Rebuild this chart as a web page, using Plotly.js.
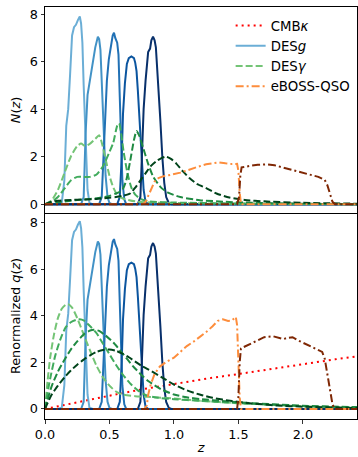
<!DOCTYPE html>
<html><head><meta charset="utf-8">
<script src="https://cdn.plot.ly/plotly-3.0.1.min.js"></script>
<style>body{margin:0;padding:0;background:#fff}#c{width:358px;height:457px}</style>
</head><body><div id="c"></div>
<script>
// ---------- DATA ----------
// DES galaxy clustering N(z) bins (top panel)
const desgZ1 = [0,0.10,0.13,0.15,0.165,0.18,0.195,0.21,0.225,0.24,0.255,0.27,0.28,0.29,0.30,0.31,0.32,0.33,0.345,0.37,2.42];
const desgN1 = [0,0,0.05,1.0,3.3,4.0,5.5,7.1,7.45,7.55,7.75,7.9,7.6,6.8,5.0,3.5,1.8,0.6,0.05,0,0];
const desgZ2 = [0,0.28,0.30,0.315,0.33,0.35,0.37,0.39,0.41,0.42,0.43,0.44,0.455,0.47,0.485,0.50,0.52,2.42];
const desgN2 = [0,0,0.3,3.0,4.6,5.3,6.0,6.6,7.05,6.95,6.5,5.0,3.0,1.2,0.3,0.05,0,0];
const desgZ3 = [0,0.42,0.44,0.455,0.47,0.48,0.495,0.51,0.525,0.535,0.545,0.56,0.57,0.58,0.59,0.60,0.615,0.63,2.42];
const desgN3 = [0,0,0.3,2.0,4.0,5.2,6.1,6.7,7.1,7.22,7.0,6.8,6.3,4.5,2.5,1.0,0.2,0,0];
const desgZ4 = [0,0.56,0.58,0.595,0.605,0.62,0.635,0.65,0.67,0.69,0.70,0.71,0.72,0.735,0.75,0.765,0.78,0.80,2.42];
const desgN4 = [0,0,0.3,2.0,3.8,5.1,5.9,6.15,6.22,6.15,5.95,5.6,4.8,3.5,1.8,0.6,0.1,0,0];
const desgZ5 = [0,0.72,0.74,0.755,0.765,0.78,0.79,0.80,0.815,0.825,0.838,0.85,0.86,0.87,0.88,0.895,0.91,0.925,0.94,0.96,0.98,2.42];
const desgN5 = [0,0,0.3,2.5,4.0,5.2,5.8,6.4,6.55,6.9,7.05,6.9,6.6,5.8,4.8,3.5,2.0,0.9,0.3,0.05,0,0];
// renormalisation of the DESg kernels in the lower panel (peak ratio)
const desgRenorm = [1.02,1.02,1.01,1.01,1.01];

// DES shear N(z) bins (top panel)
const desyZ1 = [0,0.05,0.1,0.15,0.2,0.25,0.28,0.31,0.35,0.39,0.42,0.44,0.47,0.5,0.53,0.56,0.6,0.7,0.8,1.0,1.5,2.42];
const desyN1 = [0,0.15,0.6,1.3,2.0,2.45,2.55,2.45,2.55,2.75,2.9,2.6,1.9,1.2,0.7,0.4,0.25,0.12,0.08,0.05,0.02,0];
const desyZ2 = [0,0.05,0.1,0.15,0.2,0.25,0.3,0.35,0.4,0.45,0.5,0.53,0.56,0.575,0.59,0.61,0.64,0.67,0.7,0.75,0.8,1.0,1.5,2.42];
const desyN2 = [0,0.1,0.3,0.65,1.0,1.15,1.15,1.15,1.25,1.6,2.2,2.6,3.3,3.4,3.0,2.2,1.3,0.7,0.4,0.2,0.12,0.07,0.03,0];
const desyZ3 = [0,0.1,0.2,0.3,0.4,0.5,0.55,0.6,0.63,0.66,0.69,0.71,0.73,0.76,0.8,0.84,0.9,0.95,1.05,1.2,1.4,1.6,2.0,2.42];
const desyN3 = [0,0.08,0.15,0.2,0.25,0.35,0.45,0.6,1.0,1.8,2.7,3.08,2.9,2.4,1.7,1.15,0.7,0.5,0.3,0.17,0.1,0.06,0.02,0];
const desyZ4 = [0,0.05,0.1,0.2,0.3,0.4,0.5,0.55,0.6,0.66,0.7,0.74,0.78,0.82,0.86,0.9,0.94,0.98,1.02,1.07,1.12,1.18,1.25,1.33,1.43,1.55,1.7,2.0,2.42];
const desyN4 = [0,0.1,0.15,0.18,0.2,0.22,0.27,0.3,0.35,0.45,0.7,1.0,1.3,1.6,1.8,1.93,2.0,1.9,1.7,1.38,1.1,0.85,0.68,0.45,0.28,0.18,0.12,0.06,0.02];
// DES shear lensing kernels (lower panel)
const desyQZ1 = [0,0.02,0.04,0.07,0.1,0.13,0.16,0.18,0.21,0.25,0.3,0.35,0.4,0.45,0.5,0.55,0.6,0.7,0.8,1.0,1.2,1.5,1.8,2.1,2.42];
const desyQ1  = [0,1.2,2.2,3.2,3.9,4.3,4.47,4.5,4.35,3.9,3.2,2.5,1.85,1.35,1.0,0.75,0.62,0.55,0.52,0.45,0.35,0.25,0.17,0.1,0.06];
const desyQZ2 = [0,0.02,0.04,0.08,0.12,0.16,0.2,0.24,0.27,0.3,0.35,0.4,0.45,0.5,0.55,0.6,0.66,0.72,0.78,0.85,1.0,1.2,1.5,1.8,2.1,2.42];
const desyQ2  = [0,0.7,1.3,2.3,3.0,3.5,3.72,3.82,3.85,3.8,3.55,3.25,2.8,2.35,1.9,1.5,1.1,0.8,0.6,0.5,0.42,0.35,0.25,0.17,0.1,0.06];
const desyQZ3 = [0,0.02,0.05,0.1,0.15,0.2,0.25,0.3,0.35,0.38,0.42,0.47,0.53,0.6,0.68,0.75,0.8,0.9,1.0,1.1,1.2,1.4,1.6,2.0,2.42];
const desyQ3  = [0,0.4,0.95,1.6,2.1,2.55,2.9,3.2,3.37,3.4,3.35,3.15,2.85,2.4,1.85,1.45,1.2,0.85,0.62,0.5,0.43,0.33,0.25,0.14,0.08];
const desyQZ4 = [0,0.02,0.05,0.1,0.15,0.2,0.25,0.3,0.35,0.4,0.45,0.5,0.55,0.6,0.65,0.7,0.75,0.8,0.9,1.0,1.1,1.2,1.3,1.45,1.6,1.8,2.0,2.42];
const desyQ4  = [0,0.25,0.6,1.0,1.35,1.65,1.9,2.12,2.3,2.45,2.53,2.55,2.5,2.38,2.22,2.03,1.85,1.7,1.38,1.05,0.8,0.62,0.48,0.34,0.24,0.15,0.1,0.04];

// eBOSS-QSO N(z) (top) and kernels (bottom)
const qsoZ1 = [0,0.76,0.78,0.80,0.82,0.85,0.88,0.92,0.96,1.0,1.05,1.1,1.15,1.2,1.25,1.3,1.35,1.4,1.45,1.49,1.5,1.51,1.52,2.42];
const qsoN1 = [0,0,0.1,0.35,0.65,0.95,1.1,1.18,1.22,1.26,1.33,1.42,1.52,1.6,1.68,1.73,1.76,1.72,1.69,1.7,1.4,0.5,0,0];
const qsoZ2 = [0,1.49,1.505,1.515,1.525,1.55,1.6,1.65,1.72,1.78,1.85,1.92,1.98,2.05,2.12,2.17,2.19,2.21,2.23,2.25,2.42];
const qsoN2 = [0,0,0.3,1.2,1.55,1.58,1.62,1.66,1.68,1.64,1.54,1.45,1.36,1.27,1.15,1.02,0.8,0.45,0.1,0,0];
const qsoQZ1 = [0,0.77,0.79,0.80,0.82,0.85,0.89,0.94,1.0,1.05,1.1,1.15,1.2,1.25,1.3,1.34,1.38,1.42,1.45,1.48,1.49,1.50,1.51,1.52,2.42];
const qsoQ1  = [0,0,0.15,0.6,1.05,1.5,1.82,2.02,2.2,2.45,2.7,2.88,3.08,3.3,3.55,3.78,3.85,3.78,3.8,3.95,3.6,1.9,0.5,0,0];
const qsoQZ2 = [0,1.49,1.5,1.51,1.52,1.55,1.6,1.65,1.7,1.77,1.82,1.85,1.88,1.92,1.96,2.0,2.06,2.1,2.15,2.17,2.19,2.21,2.23,2.245,2.42];
const qsoQ2  = [0,0,0.5,2.0,2.6,2.68,2.8,2.95,3.08,3.12,3.05,3.0,3.05,3.08,2.95,2.85,2.69,2.58,2.45,2.15,1.5,0.8,0.2,0,0];

// CMB lensing kernel (bottom)
const cmbZ = [0,0.1,0.25,0.5,0.75,1.0,1.25,1.5,1.75,2.0,2.25,2.45];
const cmbQ = [0,0.12,0.3,0.57,0.84,1.08,1.3,1.5,1.72,1.93,2.13,2.28];

const xTicks = [0,0.5,1.0,1.5,2.0];
const xTickText = ['0.0','0.5','1.0','1.5','2.0'];
const yTicks = [0,2,4,6,8];

// ---------- STYLE ----------
const blues = ['#6baed6','#4292c6','#2171b5','#0b559f','#08306b'];
const greens = ['#74c476','#41ab5d','#1f8a42','#00441b'];
const oranges = ['#fd8d3c','#7f2704'];
const LW = 2;
const DASH = '7px,3px';
const DASHDOT = '8px,3px,2px,3px';
const DOT = '2px,4px';

const traces = [];
function add(x, y, color, dash, yaxis, name, show, shape) {
  traces.push({
    x: x, y: y, type: 'scatter', mode: 'lines', xaxis: yaxis === 'y2' ? 'x2' : 'x', yaxis: yaxis,
    line: {color: color, width: LW, dash: dash, shape: shape || 'linear', smoothing: 0.6},
    name: name, legendgroup: name, showlegend: !!show, hoverinfo: 'skip'
  });
}
const desgZ = [desgZ1,desgZ2,desgZ3,desgZ4,desgZ5];
const desgN = [desgN1,desgN2,desgN3,desgN4,desgN5];
const desyZ = [desyZ1,desyZ2,desyZ3,desyZ4];
const desyN = [desyN1,desyN2,desyN3,desyN4];
const desyQZ = [desyQZ1,desyQZ2,desyQZ3,desyQZ4];
const desyQ = [desyQ1,desyQ2,desyQ3,desyQ4];

// legend entry for CMB (no CMB curve in the top panel)
traces.push({x:[null], y:[null], type:'scatter', mode:'lines', xaxis:'x', yaxis:'y',
  line:{color:'#ff0000', width:LW, dash:DOT}, name:'CMB<i>κ</i>', legendgroup:'cmb', showlegend:true, hoverinfo:'skip'});

// top panel
desgZ.forEach((z,i)=>add(z, desgN[i], blues[i], 'solid', 'y', 'DES<i>g</i>', i===0));
desyZ.forEach((z,i)=>add(z, desyN[i], greens[i], DASH, 'y', 'DES<i>γ</i>', i===0, 'spline'));
add(qsoZ1, qsoN1, oranges[0], DASHDOT, 'y', 'eBOSS-QSO', true);
add(qsoZ2, qsoN2, oranges[1], DASHDOT, 'y', 'eBOSS-QSO', false);

// bottom panel
add(cmbZ, cmbQ, '#ff0000', DOT, 'y2', 'CMB<i>κ</i>', false);
desgZ.forEach((z,i)=>add(z, desgN[i].map(v=>v*desgRenorm[i]), blues[i], 'solid', 'y2', 'DES<i>g</i>', false));
desyQZ.forEach((z,i)=>add(z, desyQ[i], greens[i], DASH, 'y2', 'DES<i>γ</i>', false, 'spline'));
add(qsoQZ1, qsoQ1, oranges[0], DASHDOT, 'y2', 'eBOSS-QSO', false);
add(qsoQZ2, qsoQ2, oranges[1], DASHDOT, 'y2', 'eBOSS-QSO', false);

const FS = 12.8;
const axFont = {family:'DejaVu Sans', size:FS, color:'#000'};
const titleFont = {family:'DejaVu Sans', size:FS, color:'#000'};
const common = {showline:true, mirror:true, linecolor:'#000', linewidth:1, ticks:'outside', ticklen:3.5, tickwidth:0.8,
  tickcolor:'#000', showgrid:false, zeroline:false, tickfont:axFont};

const layout = {
  width:358, height:457, margin:{l:45, r:1, t:7, b:38},
  paper_bgcolor:'#fff', plot_bgcolor:'#fff', font:{family:'DejaVu Sans', color:'#000'},
  showlegend:true,
  legend:{x:0.595, y:0.992, xanchor:'left', yanchor:'top', bgcolor:'rgba(0,0,0,0)', borderwidth:0,
    font:{family:'DejaVu Sans', size:13.3, color:'#000'}, itemwidth:30, tracegroupgap:0},
  xaxis: Object.assign({}, common, {domain:[0,1], range:[0,2.42], anchor:'y', showticklabels:false, ticks:'', tickvals:xTicks}),
  yaxis: Object.assign({}, common, {domain:[0.5,1], range:[-0.37,8.3], anchor:'x', tickvals:yTicks,
    title:{text:'<i>N</i>(<i>z</i>)', font:titleFont, standoff:6}}),
  xaxis2: Object.assign({}, common, {mirror:false, domain:[0,1], range:[0,2.42], anchor:'y2', tickvals:xTicks, ticktext:xTickText,
    title:{text:'<i>z</i>', font:titleFont, standoff:2}}),
  yaxis2: Object.assign({}, common, {domain:[0,0.5], range:[-0.43,8.41], anchor:'x2', tickvals:yTicks,
    title:{text:'Renormalized <i>q</i>(<i>z</i>)', font:titleFont, standoff:6}})
};
Plotly.newPlot('c', traces, layout, {staticPlot:true, displayModeBar:false});
</script></body></html>
